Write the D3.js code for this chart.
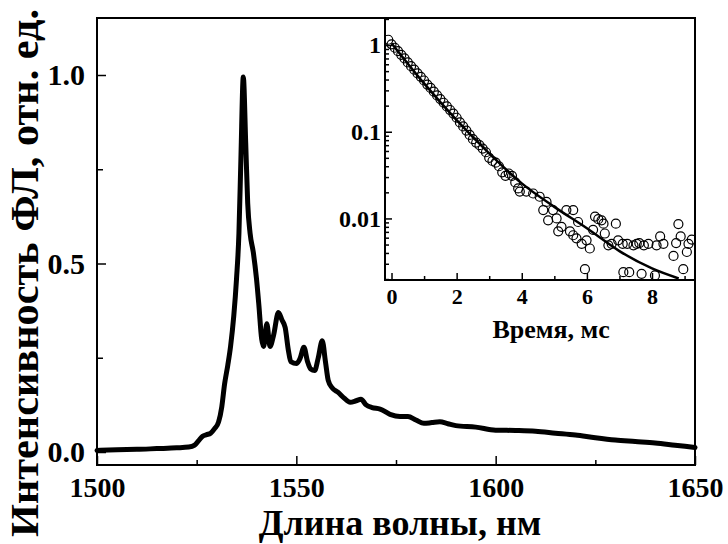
<!DOCTYPE html>
<html>
<head>
<meta charset="utf-8">
<script src="https://cdn.jsdelivr.net/npm/d3@7"></script>
<style>
  body { margin: 0; background: #fff; }
  text { font-family: "Liberation Serif", "Times New Roman", serif; font-weight: bold; fill: #000; }
</style>
</head>
<body>
<div id="chart"></div>
<script>

// spectrum: wavelength (nm) and normalised PL intensity
var waveNm = [1500, 1505, 1510, 1515, 1520, 1523, 1524.5, 1525.5, 1526.5, 1527.5, 1528.5, 1529.5,
  1530.5, 1531.3, 1532, 1532.8, 1533.5, 1534.3, 1535, 1535.6, 1536.1, 1536.7, 1537.3, 1537.8,
  1538.4, 1539.2, 1540, 1540.6, 1541.3, 1541.8, 1542.6, 1543.4, 1544.3, 1545.5, 1546.4, 1547.2,
  1548, 1548.6, 1550.1, 1551, 1551.9, 1552.8, 1553.6, 1554.6, 1555.5, 1556.5, 1557.3, 1558,
  1559, 1560.5, 1562, 1563.5, 1565, 1566.2, 1567.5, 1569, 1571, 1573.5, 1576, 1578, 1580,
  1582, 1584, 1586, 1588, 1590, 1595, 1600, 1605, 1610, 1615, 1620, 1625, 1630, 1635, 1640,
  1645, 1650];
var plIntensity = [0.004, 0.006, 0.007, 0.009, 0.011, 0.013, 0.018, 0.03, 0.042, 0.046, 0.05, 0.062,
  0.08, 0.12, 0.18, 0.23, 0.28, 0.36, 0.46, 0.58, 0.78, 0.995, 0.82, 0.66,
  0.58, 0.53, 0.46, 0.39, 0.30, 0.28, 0.34, 0.28, 0.31, 0.37, 0.35, 0.33,
  0.27, 0.24, 0.235, 0.25, 0.278, 0.24, 0.22, 0.216, 0.25, 0.295, 0.24, 0.19,
  0.17, 0.158, 0.143, 0.132, 0.136, 0.14, 0.125, 0.118, 0.114, 0.1, 0.094, 0.094, 0.085,
  0.076, 0.078, 0.08, 0.075, 0.07, 0.066, 0.058, 0.057, 0.055, 0.05, 0.045, 0.038, 0.032, 0.028, 0.024,
  0.018, 0.012];

var xTicks = [1500, 1550, 1600, 1650];
var xMinor = [1525, 1575, 1625];
var yTicks = [0, 0.5, 1.0];
var yMinor = [0.25, 0.75];

// inset: decay kinetics, time (ms) and intensity
var decayTime = [-0.1, 0, 0.1, 0.2, 0.3, 0.4, 0.5, 0.6, 0.7, 0.8, 0.9, 1.0, 1.1, 1.2, 1.3, 1.4, 1.5,
  1.6, 1.7, 1.8, 1.9, 2.0, 2.1, 2.2, 2.3, 2.4, 2.5, 2.6, 2.7, 2.8, 2.9, 3.0, 3.1, 3.2, 3.3, 3.4,
  3.5, 3.6, 3.7, 3.8, 3.89, 3.94, 4.14, 4.35, 4.55, 4.66, 4.76, 4.81, 4.96, 5.07, 5.12, 5.22,
  5.37, 5.48, 5.58, 5.58, 5.68, 5.73, 5.84, 5.94, 5.99, 6.09, 6.19, 6.25, 6.35, 6.45, 6.51, 6.55,
  6.66, 6.76, 6.89, 6.96, 7.10, 7.12, 7.24, 7.30, 7.43, 7.53, 7.61, 7.68, 7.75, 7.89, 8.09,
  8.14, 8.25, 8.35, 8.66, 8.74, 8.81, 8.88, 8.96, 9.07, 9.12, 9.22];
var decayValue = [1.15, 1.02, 0.93, 0.85, 0.77, 0.70, 0.63, 0.57, 0.52, 0.47, 0.43, 0.39, 0.35, 0.32, 0.29, 0.262, 0.238,
  0.216, 0.196, 0.178, 0.162, 0.145, 0.128, 0.115, 0.103, 0.092, 0.082, 0.075, 0.070, 0.064, 0.058, 0.050, 0.046, 0.044, 0.040, 0.034,
  0.031, 0.033, 0.031, 0.026, 0.0222, 0.0204, 0.0204, 0.0194, 0.0178, 0.0125, 0.0155, 0.0095, 0.0125, 0.010, 0.0071, 0.0080,
  0.0125, 0.0071, 0.0125, 0.0064, 0.0059, 0.0091, 0.0051, 0.0026, 0.0056, 0.0045, 0.0074, 0.0105, 0.0098, 0.0095, 0.0087, 0.0067,
  0.0049, 0.0051, 0.0087, 0.0056, 0.0051, 0.0024, 0.0051, 0.0024, 0.0049, 0.0051, 0.0052, 0.0023, 0.0049, 0.0051, 0.0022,
  0.0049, 0.0062, 0.0051, 0.0037, 0.0052, 0.0086, 0.0062, 0.0026, 0.0041, 0.0051, 0.0057];

// fitted curve
var fitTime = [0, 1, 2, 3, 4, 5, 6, 7, 8, 8.82];
var fitValue = [1.05, 0.361, 0.136, 0.0563, 0.0254, 0.0136, 0.0077, 0.0042, 0.00265, 0.00203];

var insetXTicks = [0, 2, 4, 6, 8];
var insetXMinor = [1, 3, 5, 7, 9];
var insetYTicks = [1, 0.1, 0.01];
var insetYLabels = ["1", "0.1", "0.01"];

var svgWidth = 728;
var svgHeight = 544;

var margin = { top: 18, right: 33, bottom: 79, left: 97 };
var width = svgWidth - margin.left - margin.right;
var height = svgHeight - margin.top - margin.bottom;

var svg = d3.select("#chart")
  .append("svg")
  .attr("width", svgWidth)
  .attr("height", svgHeight);

var chartGroup = svg.append("g")
  .attr("transform", `translate(${margin.left}, ${margin.top})`);

var xScale = d3.scaleLinear()
  .domain([1500, 1650])
  .range([0, width]);

// 1.0 sits at y=75, 0.0 at y=452 in the page
var yScale = d3.scaleLinear()
  .domain([0, 1])
  .range([452 - margin.top, 75 - margin.top]);

// frame
chartGroup.append("rect")
  .attr("width", width)
  .attr("height", height)
  .attr("fill", "none")
  .attr("stroke", "#000")
  .attr("stroke-width", 2);

// bottom axis, ticks pointing inward
var bottomAxis = d3.axisBottom(xScale)
  .tickValues(xTicks)
  .tickSize(-9)
  .tickPadding(12)
  .tickFormat(d3.format("d"));

var xAxisG = chartGroup.append("g")
  .attr("transform", `translate(0, ${height})`)
  .call(bottomAxis);

chartGroup.append("g")
  .attr("transform", `translate(0, ${height})`)
  .call(d3.axisBottom(xScale).tickValues(xMinor).tickSize(-5).tickFormat(""));

var leftAxis = d3.axisLeft(yScale)
  .tickValues(yTicks)
  .tickSize(-9)
  .tickPadding(12)
  .tickFormat(d3.format(".1f"));

var yAxisG = chartGroup.append("g")
  .call(leftAxis);

chartGroup.append("g")
  .call(d3.axisLeft(yScale).tickValues(yMinor).tickSize(-6).tickFormat(""));

chartGroup.selectAll(".domain").remove();
chartGroup.selectAll(".tick line").attr("stroke", "#000").attr("stroke-width", 1.5);
xAxisG.selectAll("text").style("font-size", "28px").attr("dy", "0.71em");
yAxisG.selectAll("text").style("font-size", "30px");

// spectrum line
var spectrum = waveNm.map((w, i) => ({ w: w, v: plIntensity[i] }));

var spectrumLine = d3.line()
  .x(d => xScale(d.w))
  .y(d => yScale(d.v))
  .curve(d3.curveMonotoneX);

chartGroup.append("path")
  .datum(spectrum)
  .attr("d", spectrumLine)
  .attr("fill", "none")
  .attr("stroke", "#000")
  .attr("stroke-width", 5)
  .attr("stroke-linejoin", "round")
  .attr("stroke-linecap", "round");

// axis titles
svg.append("text")
  .attr("x", 400)
  .attr("y", 535)
  .attr("text-anchor", "middle")
  .style("font-size", "36px")
  .text("Длина волны, нм");

svg.append("text")
  .attr("transform", "rotate(-90)")
  .attr("x", -273)
  .attr("y", 38)
  .attr("text-anchor", "middle")
  .attr("textLength", 528)
  .attr("lengthAdjust", "spacingAndGlyphs")
  .style("font-size", "39px")
  .text("Интенсивность ФЛ, отн. ед.");

// ---------- inset ----------
var inset = { left: 385, top: 18, right: 695, bottom: 280 };
var insetW = inset.right - inset.left;
var insetH = inset.bottom - inset.top;

var insetGroup = svg.append("g")
  .attr("transform", `translate(${inset.left}, ${inset.top})`);

var tScale = d3.scaleLinear()
  .domain([-0.2, 9.32])
  .range([0, insetW]);

var logScale = d3.scaleLog()
  .domain([0.00195, 2.05])
  .range([insetH, 0]);

insetGroup.append("rect")
  .attr("width", insetW)
  .attr("height", insetH)
  .attr("fill", "#fff")
  .attr("stroke", "#000")
  .attr("stroke-width", 2);

insetGroup.append("clipPath")
  .attr("id", "insetClip")
  .append("rect")
  .attr("width", insetW)
  .attr("height", insetH);

var insetXAxis = insetGroup.append("g")
  .attr("transform", `translate(0, ${insetH})`)
  .call(d3.axisBottom(tScale).tickValues(insetXTicks).tickSize(-7).tickPadding(8).tickFormat(d3.format("d")));

insetGroup.append("g")
  .attr("transform", `translate(0, ${insetH})`)
  .call(d3.axisBottom(tScale).tickValues(insetXMinor).tickSize(-4).tickFormat(""));

var insetYAxis = insetGroup.append("g")
  .call(d3.axisLeft(logScale).tickValues(insetYTicks).tickSize(-7).tickPadding(4)
    .tickFormat((d, i) => insetYLabels[i]));

// minor log ticks 2..9 of every decade in view
var logMinor = [];
[0.001, 0.01, 0.1, 1].forEach(function(dec) {
  for (var k = 2; k <= 9; k++) {
    var val = dec * k;
    if (val > logScale.domain()[0] && val < logScale.domain()[1]) logMinor.push(val);
  }
});

insetGroup.append("g")
  .call(d3.axisLeft(logScale).tickValues(logMinor).tickSize(-4).tickFormat(""));

insetGroup.selectAll(".domain").remove();
insetGroup.selectAll(".tick line").attr("stroke", "#000").attr("stroke-width", 1.5);
insetXAxis.selectAll("text").style("font-size", "22px").attr("dy", "0.71em");
insetYAxis.selectAll("text").style("font-size", "24px");

var plotArea = insetGroup.append("g")
  .attr("clip-path", "url(#insetClip)");

var decay = decayTime.map((t, i) => ({ t: t, v: decayValue[i] }));

plotArea.selectAll("circle")
  .data(decay)
  .enter()
  .append("circle")
  .attr("cx", d => tScale(d.t))
  .attr("cy", d => logScale(d.v))
  .attr("r", 4.5)
  .attr("fill", "none")
  .attr("stroke", "#000")
  .attr("stroke-width", 1.2);

var fit = fitTime.map((t, i) => ({ t: t, v: fitValue[i] }));

plotArea.append("path")
  .datum(fit)
  .attr("d", d3.line()
    .x(d => tScale(d.t))
    .y(d => logScale(d.v))
    .curve(d3.curveMonotoneX))
  .attr("fill", "none")
  .attr("stroke", "#000")
  .attr("stroke-width", 2.5);

insetGroup.append("text")
  .attr("x", tScale(4.9))
  .attr("y", 338 - inset.top)
  .attr("text-anchor", "middle")
  .style("font-size", "26px")
  .text("Время, мс");

</script>
</body>
</html>
